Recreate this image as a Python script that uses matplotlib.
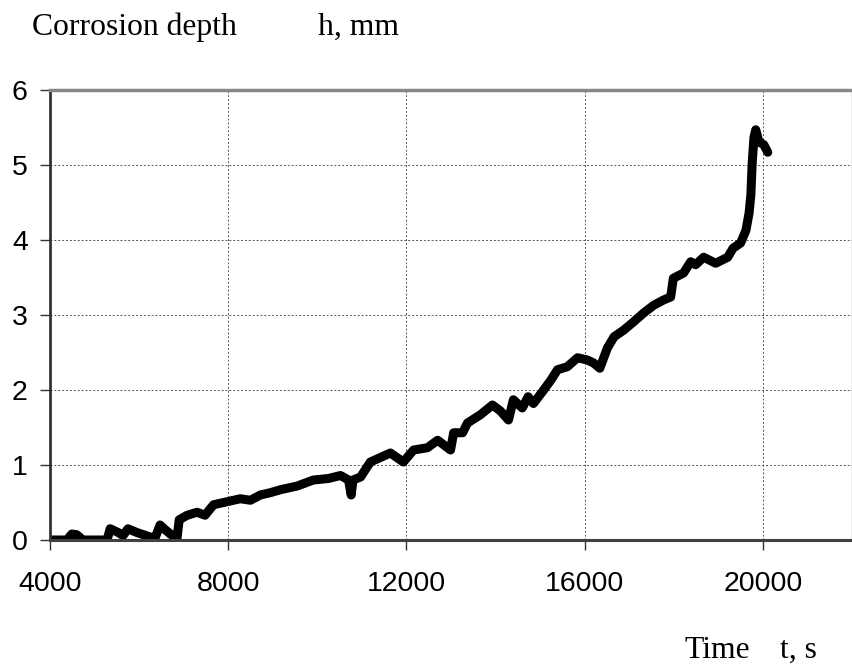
import numpy as np
import matplotlib.pyplot as plt

# time (s) and corrosion depth (mm)
t = [4000, 4380, 4490, 4600, 4740, 5280, 5350, 5530, 5640, 5750, 5950, 6250,
     6360, 6470, 6580, 6700, 6850, 6900, 7080, 7300, 7480, 7670, 7970, 8270,
     8500, 8720, 8940, 9170, 9550, 9910, 10250, 10520, 10700, 10760, 10800,
     10970, 11190, 11640, 11930, 12160, 12470, 12700, 12990, 13060, 13260,
     13370, 13660, 13930, 14110, 14290, 14400, 14600, 14730, 14850, 15080,
     15240, 15390, 15610, 15840, 16060, 16200, 16340, 16510, 16660, 16880,
     17100, 17330, 17550, 17770, 17930, 17990, 18220, 18380, 18490, 18670,
     18940, 19210, 19330, 19500, 19620, 19690, 19730, 19760, 19800, 19840,
     19910, 20020, 20110]
h = [0.0, 0.0, 0.08, 0.07, 0.0, 0.0, 0.15, 0.1, 0.06, 0.15, 0.1, 0.04,
     0.03, 0.2, 0.14, 0.08, 0.02, 0.27, 0.33, 0.37, 0.33, 0.47, 0.51, 0.55,
     0.53, 0.6, 0.63, 0.67, 0.72, 0.8, 0.82, 0.86, 0.8, 0.6, 0.8,
     0.84, 1.04, 1.16, 1.04, 1.2, 1.23, 1.33, 1.2, 1.43, 1.43,
     1.56, 1.67, 1.8, 1.72, 1.6, 1.87, 1.76, 1.91, 1.82, 2.0,
     2.13, 2.27, 2.31, 2.43, 2.4, 2.36, 2.29, 2.56, 2.71, 2.8,
     2.91, 3.03, 3.13, 3.2, 3.24, 3.49, 3.56, 3.71, 3.67, 3.77,
     3.69, 3.77, 3.89, 3.96, 4.13, 4.36, 4.6, 5.03, 5.37, 5.47,
     5.31, 5.27, 5.17]

xticks = [4000, 8000, 12000, 16000, 20000]
yticks = [0, 1, 2, 3, 4, 5, 6]

fig = plt.figure(figsize=(8.53, 6.64), dpi=100)
ax = fig.add_axes([50/853, 124/664, 802/853, 450/664])

ax.plot(t, h, color='black', lw=6.5, solid_joinstyle='round', solid_capstyle='round')

ax.set_xlim(4000, 22000)
ax.set_ylim(0, 6)
ax.set_xticks(xticks)
ax.set_yticks(yticks)
ax.grid(True, color='#555555', linestyle=(0, (2, 2)), lw=0.7)

ax.tick_params(axis='both', direction='out', length=7, width=1, color='#333333',
               labelsize=20.5)
ax.tick_params(axis='x', pad=15)
ax.tick_params(axis='y', pad=9)
for lab in ax.get_xticklabels() + ax.get_yticklabels():
    lab.set_fontfamily('Liberation Sans')

ax.spines['left'].set_color('#333333')
ax.spines['left'].set_linewidth(2)
ax.spines['bottom'].set_color('#404040')
ax.spines['bottom'].set_linewidth(2.2)
ax.spines['top'].set_color('#888888')
ax.spines['top'].set_linewidth(2.5)
ax.spines['right'].set_color('#999999')
ax.spines['right'].set_linewidth(1)

fig.text(32/853, 1 - 35/664, 'Corrosion depth', family='Liberation Serif',
         fontsize=22.8, ha='left', va='baseline')
fig.text(318/853, 1 - 35/664, 'h, mm', family='Liberation Serif',
         fontsize=22.8, ha='left', va='baseline')
fig.text(684/853, 1 - 658/664, 'Time', family='Liberation Serif',
         fontsize=22.8, ha='left', va='baseline')
fig.text(780/853, 1 - 658/664, 't, s', family='Liberation Serif',
         fontsize=22.8, ha='left', va='baseline')

fig.savefig('out.png', dpi=100)
